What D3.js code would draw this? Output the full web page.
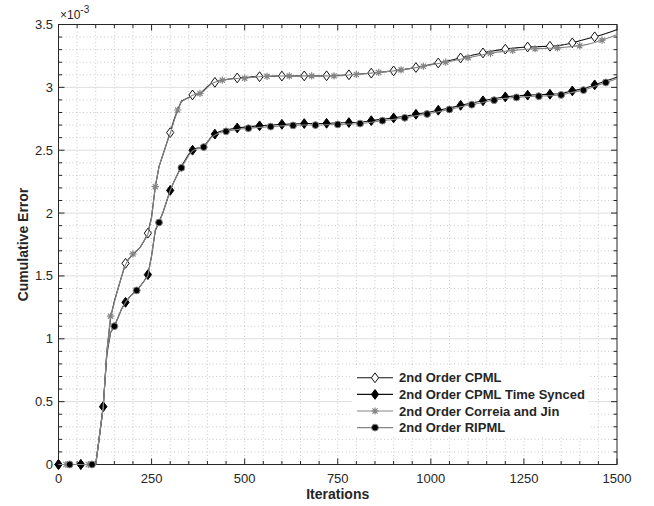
<!DOCTYPE html>
<html>
<head>
<meta charset="utf-8">
<script src="https://cdn.jsdelivr.net/npm/d3@7"></script>
<style>
  body { margin: 0; background: #fff; }
  text { font-family: "Liberation Sans", Arial, Helvetica, sans-serif; fill: #262626; }
</style>
</head>
<body>
<svg id="chart" width="654" height="506"></svg>
<script>
// iterations sampled every 10 steps, errors in units of 1e-3
var iterations = d3.range(0, 1501, 10);

var cpml = [
  0, 0, 0, 0, 0, 0, 0, 0, 0, 0,
  0, 0.23, 0.46, 0.90, 1.17, 1.30, 1.40, 1.50, 1.60, 1.64,
  1.67, 1.70, 1.73, 1.78, 1.84, 1.97, 2.21, 2.37, 2.46, 2.55,
  2.64, 2.74, 2.82, 2.89, 2.905, 2.92, 2.94, 2.945, 2.952, 2.975,
  3.005, 3.03, 3.04, 3.05, 3.058, 3.063, 3.067, 3.071, 3.075, 3.077,
  3.079, 3.081, 3.083, 3.084, 3.085, 3.086, 3.087, 3.088, 3.089, 3.09,
  3.09, 3.09, 3.091, 3.091, 3.091, 3.091, 3.091, 3.091, 3.091, 3.091,
  3.091, 3.091, 3.092, 3.093, 3.094, 3.095, 3.096, 3.098, 3.10, 3.102,
  3.104, 3.106, 3.108, 3.11, 3.113, 3.116, 3.119, 3.122, 3.125, 3.128,
  3.131, 3.135, 3.139, 3.143, 3.148, 3.153, 3.158, 3.164, 3.17, 3.176,
  3.182, 3.188, 3.194, 3.20, 3.206, 3.213, 3.22, 3.227, 3.234, 3.241,
  3.248, 3.255, 3.262, 3.268, 3.274, 3.28, 3.286, 3.291, 3.296, 3.30,
  3.304, 3.308, 3.311, 3.314, 3.317, 3.319, 3.321, 3.322, 3.323, 3.324,
  3.325, 3.326, 3.327, 3.329, 3.332, 3.336, 3.341, 3.347, 3.354, 3.362,
  3.37, 3.378, 3.386, 3.394, 3.402, 3.41, 3.419, 3.428, 3.438, 3.449,
  3.46
];

var cpmlSynced = [
  0, 0, 0, 0, 0, 0, 0, 0, 0, 0,
  0, 0.22, 0.46, 0.88, 1.05, 1.10, 1.17, 1.24, 1.29, 1.33,
  1.36, 1.39, 1.42, 1.46, 1.51, 1.66, 1.86, 1.93, 2.00, 2.09,
  2.18, 2.25, 2.31, 2.37, 2.42, 2.47, 2.50, 2.515, 2.52, 2.53,
  2.565, 2.605, 2.628, 2.645, 2.655, 2.662, 2.667, 2.672, 2.677, 2.681,
  2.684, 2.687, 2.69, 2.692, 2.694, 2.696, 2.698, 2.70, 2.702, 2.704,
  2.706, 2.707, 2.708, 2.709, 2.71, 2.711, 2.712, 2.712, 2.712, 2.712,
  2.712, 2.713, 2.714, 2.715, 2.716, 2.717, 2.718, 2.719, 2.72, 2.721,
  2.722, 2.724, 2.727, 2.731, 2.735, 2.739, 2.743, 2.747, 2.75, 2.753,
  2.757, 2.762, 2.766, 2.77, 2.775, 2.78, 2.786, 2.791, 2.796, 2.80,
  2.806, 2.812, 2.818, 2.824, 2.83, 2.836, 2.843, 2.85, 2.857, 2.864,
  2.87, 2.875, 2.881, 2.887, 2.893, 2.899, 2.905, 2.91, 2.915, 2.92,
  2.924, 2.927, 2.93, 2.932, 2.934, 2.936, 2.938, 2.939, 2.941, 2.942,
  2.943, 2.944, 2.945, 2.947, 2.949, 2.952, 2.958, 2.965, 2.972, 2.978,
  2.984, 2.99, 2.999, 3.009, 3.02, 3.03, 3.041, 3.051, 3.061, 3.071,
  3.082
];

var correiaJin = [
  0, 0, 0, 0, 0, 0, 0, 0, 0, 0,
  0, 0.23, 0.45, 0.90, 1.18, 1.29, 1.40, 1.50, 1.59, 1.64,
  1.675, 1.70, 1.73, 1.78, 1.83, 1.96, 2.21, 2.37, 2.46, 2.55,
  2.63, 2.73, 2.82, 2.885, 2.905, 2.92, 2.938, 2.945, 2.952, 2.97,
  3.00, 3.028, 3.04, 3.05, 3.057, 3.062, 3.066, 3.069, 3.071, 3.072,
  3.073, 3.076, 3.079, 3.082, 3.084, 3.086, 3.088, 3.089, 3.09, 3.09,
  3.09, 3.09, 3.091, 3.091, 3.091, 3.091, 3.091, 3.091, 3.091, 3.091,
  3.091, 3.091, 3.091, 3.091, 3.091, 3.092, 3.093, 3.095, 3.098, 3.101,
  3.103, 3.106, 3.108, 3.11, 3.113, 3.116, 3.119, 3.122, 3.125, 3.128,
  3.131, 3.135, 3.139, 3.143, 3.147, 3.152, 3.157, 3.162, 3.168, 3.173,
  3.179, 3.184, 3.19, 3.195, 3.20, 3.206, 3.212, 3.218, 3.224, 3.23,
  3.236, 3.242, 3.248, 3.254, 3.26, 3.266, 3.271, 3.276, 3.28, 3.284,
  3.287, 3.29, 3.293, 3.296, 3.299, 3.301, 3.303, 3.305, 3.307, 3.308,
  3.309, 3.31, 3.311, 3.312, 3.314, 3.316, 3.319, 3.322, 3.325, 3.328,
  3.331, 3.336, 3.342, 3.349, 3.357, 3.366, 3.375, 3.386, 3.397, 3.408,
  3.42
];

var ripml = [
  0, 0, 0, 0, 0, 0, 0, 0, 0, 0,
  0, 0.23, 0.45, 0.90, 1.05, 1.10, 1.17, 1.24, 1.29, 1.33,
  1.36, 1.385, 1.42, 1.46, 1.50, 1.66, 1.87, 1.925, 2.00, 2.09,
  2.18, 2.25, 2.31, 2.36, 2.41, 2.46, 2.495, 2.51, 2.515, 2.525,
  2.56, 2.60, 2.62, 2.635, 2.645, 2.65, 2.655, 2.66, 2.665, 2.67,
  2.672, 2.675, 2.678, 2.68, 2.682, 2.684, 2.686, 2.688, 2.69, 2.692,
  2.694, 2.695, 2.696, 2.697, 2.698, 2.699, 2.70, 2.70, 2.70, 2.70,
  2.70, 2.701, 2.702, 2.703, 2.704, 2.705, 2.706, 2.707, 2.708, 2.709,
  2.71, 2.712, 2.715, 2.719, 2.723, 2.727, 2.731, 2.735, 2.738, 2.741,
  2.745, 2.75, 2.754, 2.758, 2.763, 2.768, 2.774, 2.779, 2.784, 2.788,
  2.794, 2.80, 2.806, 2.812, 2.818, 2.824, 2.831, 2.838, 2.845, 2.852,
  2.858, 2.862, 2.868, 2.874, 2.88, 2.887, 2.893, 2.898, 2.903, 2.908,
  2.912, 2.915, 2.918, 2.92, 2.922, 2.924, 2.926, 2.927, 2.929, 2.93,
  2.931, 2.932, 2.933, 2.935, 2.937, 2.94, 2.946, 2.953, 2.96, 2.966,
  2.972, 2.978, 2.987, 2.997, 3.008, 3.018, 3.029, 3.039, 3.049, 3.059,
  3.07
];

var seriesNames = ["2nd Order CPML", "2nd Order CPML Time Synced",
  "2nd Order Correia and Jin", "2nd Order RIPML"];
var xTicks = [0, 250, 500, 750, 1000, 1250, 1500];
var yTicks = [0, 0.5, 1, 1.5, 2, 2.5, 3, 3.5];

// layout
var axisColor = "#262626";
var gray = "#858585";
var x = d3.scaleLinear().domain([0, 1500]).range([58.5, 617]);
var y = d3.scaleLinear().domain([0, 3.5]).range([464.5, 24.5]);

var svg = d3.select("#chart");

// grid: dotted minor in both directions, solid major horizontal
var grid = svg.append("g");
var xMinor = d3.range(50, 1500, 50);
var yMinor = d3.range(1, 35).map(function(i) { return i / 10; }).filter(function(v) { return Math.abs(v * 2 - Math.round(v * 2)) > 1e-6; });

grid.selectAll(".vminor").data(xMinor).enter().append("line")
  .attr("x1", function(d) { return x(d); }).attr("x2", function(d) { return x(d); })
  .attr("y1", y(3.5)).attr("y2", y(0))
  .attr("stroke", "#bdbdbd").attr("stroke-width", 0.8)
  .attr("stroke-dasharray", "1,2.5");
grid.selectAll(".hminor").data(yMinor).enter().append("line")
  .attr("x1", x(0)).attr("x2", x(1500))
  .attr("y1", function(d) { return y(d); }).attr("y2", function(d) { return y(d); })
  .attr("stroke", "#bdbdbd").attr("stroke-width", 0.8)
  .attr("stroke-dasharray", "1,2.5");
grid.selectAll(".hmajor").data(yTicks.slice(1, -1)).enter().append("line")
  .attr("x1", x(0)).attr("x2", x(1500))
  .attr("y1", function(d) { return y(d); }).attr("y2", function(d) { return y(d); })
  .attr("stroke", "#dedede").attr("stroke-width", 1);

// box and ticks on all four sides
var axes = svg.append("g");
axes.append("rect")
  .attr("x", x(0)).attr("y", y(3.5))
  .attr("width", x(1500) - x(0)).attr("height", y(0) - y(3.5))
  .attr("fill", "none").attr("stroke", axisColor).attr("stroke-width", 1);

var xAll = d3.range(0, 1501, 50);
var yAll = d3.range(0, 36).map(function(i) { return i / 10; });
function xLen(d) { return d % 250 === 0 ? 6 : 3.5; }
function yLen(d) { return Math.abs(d * 2 - Math.round(d * 2)) < 1e-6 ? 6 : 3.5; }

axes.selectAll(".tb").data(xAll).enter().append("line")
  .attr("x1", function(d) { return x(d); }).attr("x2", function(d) { return x(d); })
  .attr("y1", y(0)).attr("y2", function(d) { return y(0) - xLen(d); })
  .attr("stroke", axisColor);
axes.selectAll(".tt").data(xAll).enter().append("line")
  .attr("x1", function(d) { return x(d); }).attr("x2", function(d) { return x(d); })
  .attr("y1", y(3.5)).attr("y2", function(d) { return y(3.5) + xLen(d); })
  .attr("stroke", axisColor);
axes.selectAll(".tl").data(yAll).enter().append("line")
  .attr("y1", function(d) { return y(d); }).attr("y2", function(d) { return y(d); })
  .attr("x1", x(0)).attr("x2", function(d) { return x(0) + yLen(d); })
  .attr("stroke", axisColor);
axes.selectAll(".tr").data(yAll).enter().append("line")
  .attr("y1", function(d) { return y(d); }).attr("y2", function(d) { return y(d); })
  .attr("x1", x(1500)).attr("x2", function(d) { return x(1500) - yLen(d); })
  .attr("stroke", axisColor);

// tick labels
axes.selectAll(".xl").data(xTicks).enter().append("text")
  .attr("x", function(d) { return x(d); }).attr("y", 483)
  .attr("text-anchor", "middle").attr("font-size", 13)
  .text(function(d) { return d; });
axes.selectAll(".yl").data(yTicks).enter().append("text")
  .attr("x", 53).attr("y", function(d) { return y(d); })
  .attr("dy", "0.35em").attr("text-anchor", "end").attr("font-size", 13)
  .text(function(d) { return String(d); });

// exponent
var expo = axes.append("text").attr("x", 60).attr("y", 18.5).attr("font-size", 12);
expo.append("tspan").text("\u00d710");
expo.append("tspan").attr("dy", -5.5).attr("font-size", 10).text("-3");

// axis labels
svg.append("text")
  .attr("x", (x(0) + x(1500)) / 2).attr("y", 499)
  .attr("text-anchor", "middle").attr("font-size", 14).attr("font-weight", "bold")
  .text("Iterations");
svg.append("text")
  .attr("transform", "translate(28," + ((y(0) + y(3.5)) / 2) + ") rotate(-90)")
  .attr("text-anchor", "middle").attr("font-size", 14).attr("font-weight", "bold")
  .text("Cumulative Error");

// markers
function diamondPath(w, h) {
  return "M0," + (-h) + "L" + w + ",0L0," + h + "L" + (-w) + ",0Z";
}
function drawMarker(g, kind) {
  if (kind === "open") {
    g.append("path").attr("d", diamondPath(3.6, 4.9))
      .attr("fill", "#fff").attr("stroke", "#111").attr("stroke-width", 1);
  } else if (kind === "filled") {
    g.append("path").attr("d", diamondPath(3.6, 4.9))
      .attr("fill", "#000").attr("stroke", "#000").attr("stroke-width", 1);
  } else if (kind === "star") {
    var r = 3.6, s = r * 0.72;
    g.append("path")
      .attr("d", "M0," + (-r) + "V" + r + "M" + (-r) + ",0H" + r +
        "M" + (-s) + "," + (-s) + "L" + s + "," + s + "M" + (-s) + "," + s + "L" + s + "," + (-s))
      .attr("stroke", gray).attr("stroke-width", 1.2).attr("fill", "none");
  } else {
    g.append("circle").attr("r", 3.4)
      .attr("fill", "#000").attr("stroke", gray).attr("stroke-width", 1);
  }
}

var series = [
  { name: seriesNames[0], values: cpml, color: "#111", marker: "open", marks: d3.range(0, 1441, 60) },
  { name: seriesNames[1], values: cpmlSynced, color: "#111", marker: "filled", marks: d3.range(0, 1441, 60) },
  { name: seriesNames[2], values: correiaJin, color: gray, marker: "star", marks: d3.range(20, 1461, 60) },
  { name: seriesNames[3], values: ripml, color: gray, marker: "circle", marks: d3.range(30, 1471, 60) }
];

var line = d3.line()
  .x(function(d) { return x(d[0]); })
  .y(function(d) { return y(d[1]); });

var plot = svg.append("g");
series.forEach(function(s) {
  var pts = iterations.map(function(it, i) { return [it, s.values[i]]; });
  plot.append("path").datum(pts)
    .attr("d", line)
    .attr("fill", "none").attr("stroke", s.color).attr("stroke-width", 1.1);
  s.marks.forEach(function(it) {
    var v = s.values[iterations.indexOf(it)];
    var g = plot.append("g").attr("transform", "translate(" + x(it) + "," + y(v) + ")");
    drawMarker(g, s.marker);
  });
});

// legend
var legend = svg.append("g");
legend.append("rect")
  .attr("x", 352).attr("y", 368).attr("width", 236).attr("height", 68)
  .attr("fill", "#fff");
series.forEach(function(s, i) {
  var ly = 377.8 + i * 16.6;
  legend.append("line")
    .attr("x1", 357).attr("x2", 393).attr("y1", ly).attr("y2", ly)
    .attr("stroke", s.color).attr("stroke-width", 1.1);
  drawMarker(legend.append("g").attr("transform", "translate(375," + ly + ")"), s.marker);
  legend.append("text")
    .attr("x", 399).attr("y", ly).attr("dy", "0.35em")
    .attr("font-size", 13).attr("font-weight", "bold").attr("fill", "#000")
    .text(s.name);
});
</script>
</body>
</html>
